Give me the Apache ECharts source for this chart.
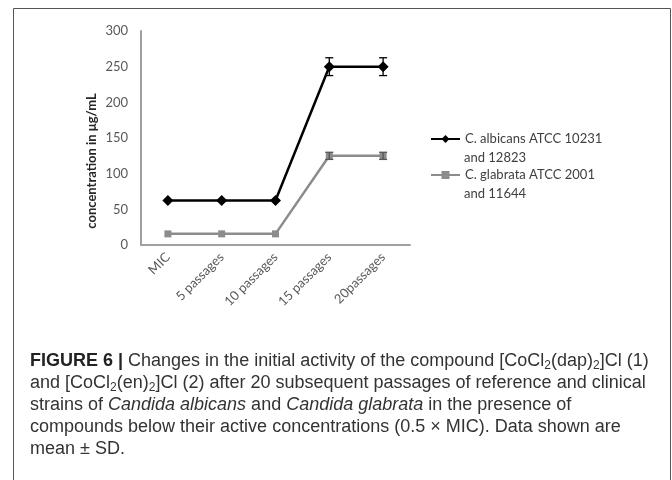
<!DOCTYPE html>
<html>
<head>
<meta charset="utf-8">
<script src="https://cdn.jsdelivr.net/npm/echarts@6/dist/echarts.min.js"></script>
<style>
html,body{margin:0;padding:0;background:#fff;}
#chart{width:672px;height:480px;}
</style>
</head>
<body>
<div id="chart"></div>
<script>
const categories = ['MIC', '5 passages', '10 passages', '15 passages', '20passages'];
const albicansName = 'C. albicans ATCC 10231 and 12823';
const glabrataName = 'C. glabrata ATCC 2001 and 11644';
const albicans = [62.5, 62.5, 62.5, 250, 250];
const albicansSD = [0, 0, 0, 12.5, 12.5];
const glabrata = [15.6, 15.6, 15.6, 125, 125];
const glabrataSD = [0, 0, 0, 5, 5];
const yTicks = [0, 50, 100, 150, 200, 250, 300];

function errData(vals, sds) {
  const out = [];
  vals.forEach((v, i) => { if (sds[i] > 0) out.push([i, v + sds[i], v - sds[i]]); });
  return out;
}
function errRender(color) {
  return function (params, api) {
    const x = api.value(0);
    const p1 = api.coord([x, api.value(1)]);
    const p2 = api.coord([x, api.value(2)]);
    const w = 4;
    const st = { stroke: color, lineWidth: 1.3 };
    return {
      type: 'group',
      children: [
        { type: 'line', shape: { x1: p1[0], y1: p1[1], x2: p2[0], y2: p2[1] }, style: st },
        { type: 'line', shape: { x1: p1[0] - w, y1: p1[1], x2: p1[0] + w, y2: p1[1] }, style: st },
        { type: 'line', shape: { x1: p2[0] - w, y1: p2[1], x2: p2[0] + w, y2: p2[1] }, style: st }
      ]
    };
  };
}

const chart = echarts.init(document.getElementById('chart'), null, { renderer: 'canvas' });
const chartFont = 'Lato, "Open Sans", sans-serif';
const capFont = '"Liberation Sans", Arial, sans-serif';

chart.setOption({
  backgroundColor: '#fff',
  animation: false,
  grid: { left: 141, right: 262, top: 31, bottom: 235, containLabel: false },
  xAxis: {
    type: 'category',
    data: categories,
    boundaryGap: true,
    axisLine: { show: true, lineStyle: { color: '#a0a0a0', width: 2 } },
    axisTick: { show: false },
    axisLabel: { rotate: 45, interval: 0, margin: 10, fontSize: 13, color: '#595959', fontFamily: chartFont },
    splitLine: { show: false }
  },
  yAxis: {
    type: 'value',
    min: yTicks[0],
    max: yTicks[yTicks.length - 1],
    interval: yTicks[1] - yTicks[0],
    axisLine: { show: true, lineStyle: { color: '#a0a0a0', width: 2 } },
    axisTick: { show: false },
    axisLabel: { margin: 13, fontSize: 13, color: '#595959', fontFamily: chartFont },
    splitLine: { show: false }
  },
  legend: {
    orient: 'vertical',
    left: 430,
    top: 131,
    padding: 0,
    itemWidth: 29,
    itemHeight: 10,
    itemGap: 20,
    data: [albicansName, glabrataName],
    formatter: function (name) { return name.replace(/ and \d+$/, ''); },
    textStyle: { fontSize: 13, lineHeight: 16, color: '#404040', fontFamily: chartFont }
  },
  graphic: [
    { type: 'rect', z: -10, silent: true,
      shape: { x: 13.5, y: 8.5, width: 657, height: 480 },
      style: { fill: '#fff', stroke: '#555', lineWidth: 1 } },
    { type: 'text', left: 464, top: 151, silent: true,
      style: { text: 'and 12823', fontSize: 13, fill: '#404040', fontFamily: chartFont } },
    { type: 'text', left: 464, top: 187, silent: true,
      style: { text: 'and 11644', fontSize: 13, fill: '#404040', fontFamily: chartFont } },
    { type: 'text', silent: true, x: 92, y: 161, rotation: Math.PI / 2,
      style: { text: 'concentration in μg/mL', fontSize: 13, fontWeight: 'bold', fill: '#262626',
               fontFamily: chartFont, align: 'center', verticalAlign: 'middle' } },
    { type: 'text', silent: true, x: 30, y: 350,
      style: {
        text: '{b|FIGURE 6 |} Changes in the initial activity of the compound [CoCl{s|2}(dap){s|2}]Cl (1)\n' +
              'and [CoCl{s|2}(en){s|2}]Cl (2) after 20 subsequent passages of reference and clinical\n' +
              'strains of {i|Candida albicans} and {i|Candida glabrata} in the presence of\n' +
              'compounds below their active concentrations (0.5 × MIC). Data shown are\n' +
              'mean ± SD.',
        fontSize: 18, lineHeight: 22, fill: '#333', fontFamily: capFont,
        verticalAlign: 'top',
        rich: {
          b: { fontSize: 18, lineHeight: 22, fontWeight: 'bold', fill: '#222', fontFamily: capFont },
          i: { fontSize: 18, lineHeight: 22, fontStyle: 'italic', fill: '#333', fontFamily: capFont },
          s: { fontSize: 12, lineHeight: 15, verticalAlign: 'bottom', fill: '#333', fontFamily: capFont }
        }
      } }
  ],
  series: [
    {
      name: albicansName, type: 'line', data: albicans,
      symbol: 'diamond', symbolSize: 11,
      lineStyle: { color: '#000', width: 2.5 },
      itemStyle: { color: '#000' }, z: 3
    },
    {
      name: glabrataName, type: 'line', data: glabrata,
      symbol: 'rect', symbolSize: 7,
      lineStyle: { color: '#8c8c8c', width: 2.5 },
      itemStyle: { color: '#8c8c8c' }, z: 2
    },
    {
      type: 'custom', name: 'albicans SD', data: errData(albicans, albicansSD),
      renderItem: errRender('#000'), z: 5, silent: true
    },
    {
      type: 'custom', name: 'glabrata SD', data: errData(glabrata, glabrataSD),
      renderItem: errRender('#555'), z: 5, silent: true
    }
  ]
});
</script>
</body>
</html>
